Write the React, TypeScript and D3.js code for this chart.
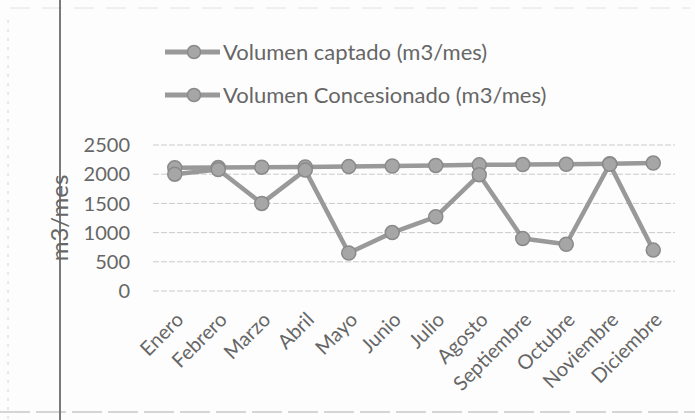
import { useEffect, useRef } from "react";
import * as d3 from "d3";

const months = [
  "Enero",
  "Febrero",
  "Marzo",
  "Abril",
  "Mayo",
  "Junio",
  "Julio",
  "Agosto",
  "Septiembre",
  "Octubre",
  "Noviembre",
  "Diciembre",
];
const captado = [2000, 2080, 1500, 2070, 650, 1000, 1270, 1990, 900, 800, 2170, 700];
const concesionado = [2110, 2115, 2120, 2125, 2130, 2140, 2150, 2160, 2165, 2170, 2180, 2190];
const yTicks = [0, 500, 1000, 1500, 2000, 2500];
const seriesNames = ["Volumen captado (m3/mes)", "Volumen Concesionado (m3/mes)"];

export default function App() {
  const ref = useRef<SVGSVGElement>(null);

  useEffect(() => {
    const width = 695;
    const height = 420;
    const margin = { top: 145, right: 20, bottom: 128, left: 153 };
    const svg = d3.select(ref.current);
    svg.selectAll("*").remove();
    svg.attr("width", width).attr("height", height);

    const font = "Lato, Open Sans, sans-serif";
    const textColor = "#666";
    const lineColor = "#999";

    svg.append("rect").attr("width", width).attr("height", height).attr("fill", "#fdfdfd");

    // scanned page marks
    svg.append("line")
      .attr("x1", 8).attr("x2", 8).attr("y1", 20).attr("y2", 420)
      .attr("stroke", "#d4d4d4").attr("stroke-dasharray", "3,6");
    svg.append("line")
      .attr("x1", 10).attr("x2", 690).attr("y1", 8).attr("y2", 8)
      .attr("stroke", "#e2e2e2").attr("stroke-dasharray", "20,12");
    svg.append("line")
      .attr("x1", 0).attr("x2", 695).attr("y1", 412).attr("y2", 412)
      .attr("stroke", "#c8c8c8").attr("stroke-width", 1.5).attr("stroke-dasharray", "30,6");
    svg.append("line")
      .attr("x1", 60).attr("x2", 60).attr("y1", 0).attr("y2", 420)
      .attr("stroke", "#7a7a7a").attr("stroke-width", 2);

    const x = d3
      .scaleBand()
      .domain(months)
      .range([margin.left, width - margin.right]);
    const y = d3
      .scaleLinear()
      .domain([0, 2500])
      .range([height - margin.bottom - 1, margin.top]);

    const cx = (m: string) => (x(m) as number) + x.bandwidth() / 2;

    // gridlines
    svg.append("g")
      .selectAll("line")
      .data(yTicks)
      .enter()
      .append("line")
      .attr("x1", margin.left)
      .attr("x2", width - margin.right)
      .attr("y1", (d) => y(d))
      .attr("y2", (d) => y(d))
      .attr("stroke", "#cacaca")
      .attr("stroke-width", 1)
      .attr("stroke-dasharray", "6,2");

    // y tick labels
    svg.append("g")
      .selectAll("text")
      .data(yTicks)
      .enter()
      .append("text")
      .attr("x", 130)
      .attr("y", (d) => y(d))
      .attr("dy", "0.36em")
      .attr("text-anchor", "end")
      .attr("font-family", font)
      .attr("font-size", 20)
      .attr("fill", textColor)
      .text((d) => d);

    // y title
    svg.append("text")
      .attr("transform", `translate(68,${(y(0) + y(2500)) / 2}) rotate(-90)`)
      .attr("text-anchor", "middle")
      .attr("font-family", font)
      .attr("font-size", 24)
      .attr("fill", textColor)
      .text("m3/mes");

    // x labels
    svg.append("g")
      .selectAll("text")
      .data(months)
      .enter()
      .append("text")
      .attr("transform", (d) => `translate(${cx(d) + 10},${y(0) + 30}) rotate(-45)`)
      .attr("text-anchor", "end")
      .attr("font-family", font)
      .attr("font-size", 20)
      .attr("fill", textColor)
      .text((d) => d);

    const line = d3
      .line<number>()
      .x((d, i) => cx(months[i]))
      .y((d) => y(d));

    [concesionado, captado].forEach((data) => {
      svg.append("path")
        .datum(data)
        .attr("fill", "none")
        .attr("stroke", lineColor)
        .attr("stroke-width", 4.5)
        .attr("stroke-linejoin", "round")
        .attr("d", line);
      svg.append("g")
        .selectAll("circle")
        .data(data)
        .enter()
        .append("circle")
        .attr("cx", (d, i) => cx(months[i]))
        .attr("cy", (d) => y(d))
        .attr("r", 7)
        .attr("fill", "#a6a6a6")
        .attr("stroke", "#8a8a8a")
        .attr("stroke-width", 1.5);
    });

    // legend
    const legend = svg.append("g");
    seriesNames.forEach((name, i) => {
      const ly = 52 + i * 43;
      legend.append("line")
        .attr("x1", 165).attr("x2", 220).attr("y1", ly).attr("y2", ly)
        .attr("stroke", lineColor).attr("stroke-width", 5);
      legend.append("circle")
        .attr("cx", 194).attr("cy", ly).attr("r", 6.5)
        .attr("fill", "#a6a6a6").attr("stroke", "#8a8a8a").attr("stroke-width", 1.5);
      legend.append("text")
        .attr("x", 223).attr("y", ly).attr("dy", "0.36em")
        .attr("font-family", font).attr("font-size", 22)
        .attr("fill", textColor)
        .text(name);
    });
  }, []);

  return (
    <div style={{ position: "absolute", left: 0, top: 0 }}>
      <svg ref={ref} style={{ display: "block" }}></svg>
    </div>
  );
}
